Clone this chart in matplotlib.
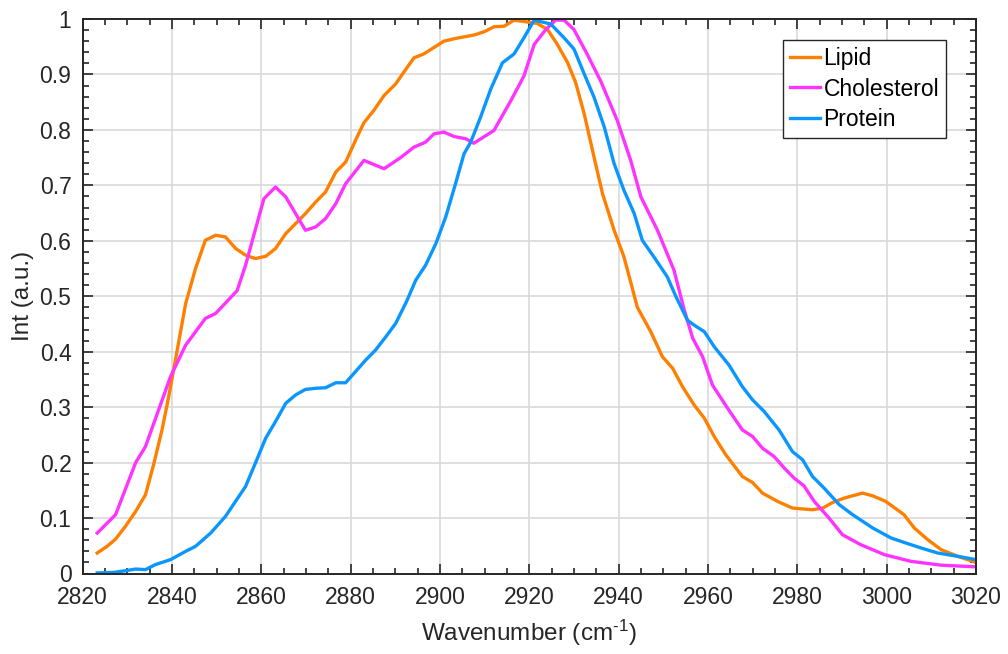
import matplotlib
matplotlib.use("Agg")
import matplotlib.pyplot as plt
from matplotlib.ticker import MultipleLocator

# === dados ===
lipid_x = [2823.3, 2825.5, 2827.4, 2829.6, 2831.9, 2834.1, 2836.0, 2837.8, 2839.3, 2841.2,
           2843.1, 2845.3, 2847.5, 2849.8, 2852.0, 2854.3, 2856.5, 2858.7, 2861.0, 2863.2,
           2865.5, 2869.9, 2872.2, 2874.4, 2876.7, 2878.9, 2881.1, 2883.0, 2885.2, 2887.5,
           2890.1, 2892.0, 2894.2, 2896.4, 2900.9, 2903.5, 2907.6, 2909.9, 2912.1, 2914.4,
           2916.6, 2919.2, 2921.8, 2924.1, 2926.3, 2928.6, 2930.4, 2932.3, 2934.5, 2936.4,
           2939.0, 2941.2, 2944.2, 2947.2, 2949.8, 2952.1, 2954.3, 2956.9, 2959.2, 2961.4,
           2964.0, 2967.7, 2970.0, 2972.2, 2975.6, 2978.9, 2983.4, 2985.7, 2987.9, 2990.5,
           2994.6, 2996.9, 2999.8, 3003.9, 3006.2, 3009.2, 3012.2, 3015.9, 3020.0]
lipid_y = [0.037, 0.049, 0.062, 0.085, 0.112, 0.142, 0.199, 0.259, 0.319, 0.403,
           0.487, 0.550, 0.601, 0.610, 0.607, 0.586, 0.574, 0.568, 0.572, 0.586,
           0.613, 0.649, 0.670, 0.688, 0.724, 0.742, 0.781, 0.813, 0.835, 0.862,
           0.883, 0.905, 0.930, 0.937, 0.960, 0.965, 0.971, 0.977, 0.986, 0.987,
           0.998, 0.995, 0.992, 0.981, 0.954, 0.921, 0.885, 0.829, 0.751, 0.685,
           0.619, 0.571, 0.480, 0.436, 0.391, 0.370, 0.337, 0.304, 0.280, 0.247,
           0.214, 0.175, 0.164, 0.145, 0.130, 0.118, 0.115, 0.118, 0.128, 0.136,
           0.145, 0.140, 0.130, 0.106, 0.082, 0.061, 0.043, 0.031, 0.020]

chol_x = [2823.3, 2827.4, 2831.9, 2834.1, 2839.7, 2843.1, 2847.5, 2849.8, 2854.6, 2856.5,
          2860.6, 2863.2, 2865.5, 2869.9, 2872.2, 2874.4, 2876.7, 2878.9, 2883.0, 2887.5,
          2891.2, 2894.2, 2896.8, 2898.7, 2900.9, 2903.2, 2905.8, 2907.6, 2912.1, 2915.9,
          2918.8, 2921.1, 2923.7, 2925.9, 2927.8, 2930.0, 2933.0, 2936.0, 2939.7, 2942.7,
          2945.0, 2948.7, 2952.4, 2954.7, 2956.6, 2958.8, 2961.0, 2964.4, 2967.7, 2970.0,
          2972.2, 2974.8, 2977.1, 2979.3, 2981.5, 2983.8, 2987.1, 2990.1, 2994.2, 2999.5,
          3005.4, 3012.2, 3020.0]
chol_y = [0.073, 0.106, 0.200, 0.229, 0.355, 0.412, 0.460, 0.469, 0.510, 0.556,
          0.676, 0.697, 0.679, 0.619, 0.625, 0.640, 0.667, 0.703, 0.745, 0.730,
          0.750, 0.769, 0.778, 0.793, 0.796, 0.788, 0.784, 0.776, 0.799, 0.853,
          0.897, 0.954, 0.981, 0.998, 0.998, 0.981, 0.936, 0.888, 0.817, 0.745,
          0.679, 0.619, 0.547, 0.475, 0.424, 0.391, 0.340, 0.298, 0.259, 0.247,
          0.226, 0.211, 0.190, 0.172, 0.158, 0.130, 0.100, 0.070, 0.052, 0.034,
          0.022, 0.015, 0.012]

prot_x = [2823.3, 2827.0, 2829.6, 2831.9, 2834.1, 2836.3, 2839.7, 2843.1, 2845.3, 2848.7,
          2852.0, 2856.5, 2858.7, 2861.0, 2863.2, 2865.5, 2867.7, 2869.9, 2872.2, 2874.4,
          2876.7, 2878.9, 2881.1, 2883.4, 2885.6, 2887.9, 2890.1, 2892.5, 2894.6, 2896.8,
          2899.1, 2901.3, 2903.5, 2905.4, 2906.9, 2909.1, 2911.4, 2914.0, 2916.6, 2918.8,
          2921.1, 2924.8, 2927.8, 2930.0, 2932.3, 2934.5, 2936.8, 2939.0, 2941.2, 2943.5,
          2945.3, 2947.9, 2950.9, 2952.8, 2955.4, 2956.9, 2959.2, 2961.4, 2964.7, 2967.7,
          2970.0, 2972.6, 2975.9, 2978.9, 2981.2, 2983.4, 2986.0, 2989.4, 2992.4, 2996.9,
          3001.0, 3004.3, 3007.7, 3011.4, 3015.9, 3020.0]
prot_y = [0.001, 0.002, 0.005, 0.008, 0.007, 0.016, 0.025, 0.040, 0.049, 0.073,
          0.103, 0.157, 0.199, 0.244, 0.274, 0.307, 0.322, 0.332, 0.334, 0.335,
          0.344, 0.344, 0.364, 0.385, 0.403, 0.427, 0.451, 0.490, 0.529, 0.556,
          0.595, 0.643, 0.703, 0.757, 0.778, 0.823, 0.874, 0.921, 0.937, 0.966,
          0.998, 0.991, 0.966, 0.946, 0.901, 0.859, 0.805, 0.739, 0.691, 0.649,
          0.601, 0.571, 0.535, 0.500, 0.457, 0.448, 0.436, 0.409, 0.376, 0.337,
          0.313, 0.292, 0.259, 0.220, 0.205, 0.175, 0.154, 0.124, 0.106, 0.082,
          0.064, 0.055, 0.046, 0.037, 0.031, 0.025]

xticks = [2820, 2840, 2860, 2880, 2900, 2920, 2940, 2960, 2980, 3000, 3020]
yticks = [0, 0.1, 0.2, 0.3, 0.4, 0.5, 0.6, 0.7, 0.8, 0.9, 1]
ytick_labels = ["0", "0.1", "0.2", "0.3", "0.4", "0.5", "0.6", "0.7", "0.8", "0.9", "1"]

plt.rcParams["font.family"] = ["Liberation Sans", "DejaVu Sans"]
plt.rcParams["mathtext.fontset"] = "custom"
plt.rcParams["mathtext.rm"] = "Liberation Sans"
plt.rcParams["mathtext.it"] = "Liberation Sans"

fig = plt.figure(figsize=(10.08, 6.54), dpi=100)
ax = fig.add_axes([82.5 / 1008, 80.5 / 654, (976 - 82.5) / 1008, (573.5 - 19) / 654])

lw = 2.4
ax.plot(lipid_x, lipid_y, color="#FF8000", lw=lw, label="Lipid")
ax.plot(chol_x, chol_y, color="#FF33FF", lw=lw, label="Cholesterol")
ax.plot(prot_x, prot_y, color="#0A96FF", lw=lw, label="Protein")

ax.set_xlim(2820, 3020)
ax.set_ylim(0, 1)
ax.set_xticks(xticks)
ax.set_yticks(yticks)
ax.set_yticklabels(ytick_labels)
ax.xaxis.set_minor_locator(MultipleLocator(5))
ax.yaxis.set_minor_locator(MultipleLocator(0.02))

ax.tick_params(which="both", direction="in", top=True, right=True,
               colors="#262626", labelsize=16.5, width=1.2)
ax.tick_params(axis="x", which="major", length=7, pad=9)
ax.tick_params(axis="y", which="major", length=7, pad=8)
ax.tick_params(which="minor", length=4)

ax.grid(True, which="major", color="#d9d9d9", lw=1.2)
ax.set_axisbelow(True)
for s in ax.spines.values():
    s.set_color("#262626")
    s.set_linewidth(1.4)

ax.set_xlabel("Wavenumber (cm$^{\\text{-1}}$)", fontsize=17.5, color="#262626", labelpad=6)
ax.set_ylabel("Int (a.u.)", fontsize=17.5, color="#262626", labelpad=4)

leg = ax.legend(loc="upper right", bbox_to_anchor=(0.9664, 0.962), fontsize=16.5,
                handlelength=1.3, handletextpad=0.15, borderpad=0.3,
                labelspacing=0.33, borderaxespad=0, fancybox=False, framealpha=1)
leg.get_frame().set_edgecolor("#262626")
leg.get_frame().set_linewidth(1.0)

fig.savefig("out.png", dpi=100)
